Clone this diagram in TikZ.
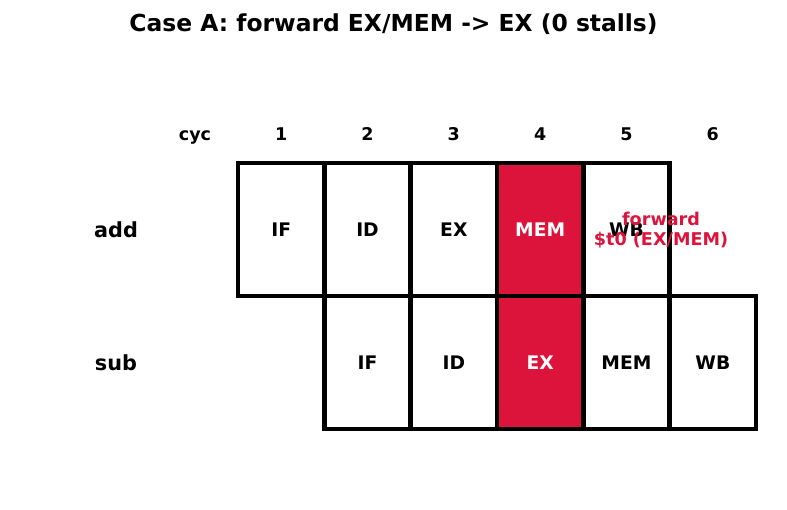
\documentclass[tikz,border=0pt]{standalone}
\usepackage{fontspec}
\setmainfont{DejaVu Sans}
\definecolor{crim}{RGB}{220,20,60}
\begin{document}
\begin{tikzpicture}[x=1pt,y=-1pt,
  cell/.style={draw=black,line width=4.4pt,minimum width=86.33pt,minimum height=133pt,inner sep=0pt,font=\bfseries\fontsize{18.7}{20}\selectfont},
  hot/.style={cell,fill=crim,text=white},
  lab/.style={font=\bfseries\fontsize{17.5}{19}\selectfont,inner sep=0pt,anchor=base},
  rowlab/.style={font=\bfseries\fontsize{20.8}{23}\selectfont,inner sep=0pt}]
\useasboundingbox (0,0) rectangle (787,510);
\node[font=\bfseries\fontsize{23.4}{26}\selectfont,inner sep=0pt] (title) at (393.5,24.5) {Case A: forward EX/MEM -> EX (0 stalls)};
\node[lab] (cyc) at (195,140.5) {cyc};
\foreach \i in {1,...,6} {
  \node[lab] (c\i) at ({238+86.33*(\i-0.5)},140.5) {\i};
}
\node[rowlab] (add) at (116,229.5) {add};
\node[rowlab] (sub) at (116,362.5) {sub};
% add row
\node[cell] (a1) at ({238+86.33*0.5},229.5) {IF};
\node[cell] (a2) at ({238+86.33*1.5},229.5) {ID};
\node[cell] (a3) at ({238+86.33*2.5},229.5) {EX};
\node[hot]  (a4) at ({238+86.33*3.5},229.5) {MEM};
\node[cell] (a5) at ({238+86.33*4.5},229.5) {WB};
% sub row
\node[cell] (s2) at ({238+86.33*1.5},362.5) {IF};
\node[cell] (s3) at ({238+86.33*2.5},362.5) {ID};
\node[hot]  (s4) at ({238+86.33*3.5},362.5) {EX};
\node[cell] (s5) at ({238+86.33*4.5},362.5) {MEM};
\node[cell] (s6) at ({238+86.33*5.5},362.5) {WB};
\node[text=crim,font=\bfseries\fontsize{17.6}{20}\selectfont,align=center,inner sep=0pt] (fwd) at (661,230) {forward\\\$t0 (EX/MEM)};
\end{tikzpicture}
\end{document}
